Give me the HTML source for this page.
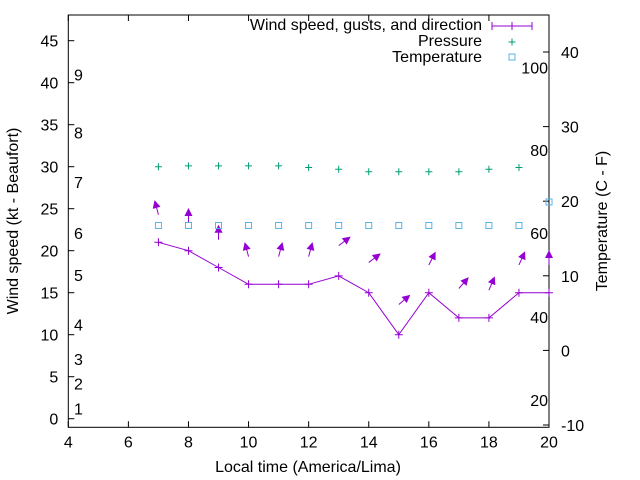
<!DOCTYPE html>
<html><head><meta charset="utf-8"><style>
body{margin:0;background:#fff}
svg{display:block;font-family:"Liberation Sans",sans-serif;font-size:16px}
</style></head><body>
<svg id="chart" width="640" height="480" viewBox="0 0 640 480">
<g id="axes"></g><g id="marks"></g>
</svg>
<script>
const hours=[7,8,9,10,11,12,13,14,15,16,17,18,19,20];
const windSpeed=[21,20,18,16,16,16,17,15,10,15,12,12,15,15];
const pressureHours=[7,8,9,10,11,12,13,14,15,16,17,18,19];
const pressure=[30,30.1,30.1,30.1,30.1,29.9,29.7,29.4,29.4,29.4,29.4,29.7,29.9];
const tempHours=[7,8,9,10,11,12,13,14,15,16,17,18,19,20];
const temperature=[23,23,23,23,23,23,23,23,23,23,23,23,23,25.8];
const arrowY=[24.3,23.3,21.3,19.3,19.3,19.3,20.6,18.6,13.6,18.3,15.5,15.3,18.3,18.3];
const arrowDir=[-15,0,0,-15,15,15,53,53,50,27,41,23,24,0];
const xTicks=[4,6,8,10,12,14,16,18,20];
const yTicks=[0,5,10,15,20,25,30,35,40,45];
const y2Ticks=[-10,0,10,20,30,40];
const beaufortLabels=["1","2","3","4","5","6","7","8","9"];
const beaufortPos=[1.2,4.2,7.1,11.2,17.1,22.1,28.2,34.1,41];
const fLabels=["20","40","60","80","100"];
const fPos=[2.2,12.1,22.1,32,41.8];

const L=68.3,R=549,T=15,B=427.3;
const X=v=>L+(v-4)*(R-L)/16;
const Y=v=>418.7-v*8.4;
const Y2=v=>425-(v+10)*7.46;
const NS="http://www.w3.org/2000/svg";
const ax=document.getElementById('axes'),mk=document.getElementById('marks');
function el(p,t,a,txt){const e=document.createElementNS(NS,t);for(const k in a)e.setAttribute(k,a[k]);if(txt!==undefined)e.textContent=txt;p.appendChild(e);return e;}

let f=el(ax,'rect',{x:L,y:T,width:R-L,height:B-T,fill:'none',stroke:'#000','stroke-width':1});


xTicks.forEach(v=>{
 let t=el(ax,'path',{d:`M${X(v)},${B}v-6M${X(v)},${T}v6`,stroke:'#000'});
 
 
 let l=el(ax,'text',{x:X(v),y:B+20,'text-anchor':'middle'},v);
 
 
});
yTicks.forEach(v=>{
 let t=el(ax,'path',{d:`M${L},${Y(v)}h6`,stroke:'#000'});
 
 
 let l=el(ax,'text',{x:L-10,y:Y(v)+6,'text-anchor':'end'},v);
 
 
});
y2Ticks.forEach(v=>{
 let t=el(ax,'path',{d:`M${R},${Y2(v)}h-6`,stroke:'#000'});
 
 
 let l=el(ax,'text',{x:R+12,y:Y2(v)+6,'text-anchor':'start'},v);
 
 
});
beaufortLabels.forEach((s,i)=>{
 let l=el(ax,'text',{x:74,y:Y(beaufortPos[i])+6},s);
 
 
});
fLabels.forEach((s,i)=>{
 let l=el(ax,'text',{x:548,y:Y(fPos[i])+6,'text-anchor':'end'},s);
 
 
});
let xt=el(ax,'text',{x:308,y:472,'text-anchor':'middle'},'Local time (America/Lima)');


let yt=el(ax,'text',{x:18,y:221,'text-anchor':'middle',transform:'rotate(-90 18 221)'},'Wind speed (kt - Beaufort)');


let y2t=el(ax,'text',{x:607,y:221,'text-anchor':'middle',transform:'rotate(-90 607 221)'},'Temperature (C - F)');



// wind line
let pts=hours.map((h,i)=>X(h)+','+Y(windSpeed[i])).join(' ');
let wl=el(mk,'polyline',{points:pts,fill:'none',stroke:'#9400d3','stroke-width':1});


hours.forEach((h,i)=>{
 let p=el(mk,'path',{d:`M${X(h)-4},${Y(windSpeed[i])}h8M${X(h)},${Y(windSpeed[i])-4}v8`,stroke:'#9400d3'});
 
 
});
// arrows
hours.forEach((h,i)=>{
 const a=arrowDir[i]*Math.PI/180,len=13;
 const x0=X(h),y0=Y(arrowY[i]);
 const dx=Math.sin(a),dy=-Math.cos(a);
 const x1=x0+dx*len,y1=y0+dy*len;
 const px=-dy,py=dx;
 let g=el(mk,'g',{});
 
 
 el(g,'line',{x1:x0,y1:y0,x2:x1,y2:y1,stroke:'#9400d3'});
 el(g,'polygon',{points:`${x1+dx*2},${y1+dy*2} ${x1-dx*6+px*4},${y1-dy*6+py*4} ${x1-dx*6-px*4},${y1-dy*6-py*4}`,fill:'#9400d3'});
});
// pressure
pressureHours.forEach((h,i)=>{
 let p=el(mk,'path',{d:`M${X(h)-3.5},${Y(pressure[i])}h7M${X(h)},${Y(pressure[i])-3.5}v7`,stroke:'#009e73'});
 
 
});
// temperature
tempHours.forEach((h,i)=>{
 let p=el(mk,'rect',{x:X(h)-3,y:Y(temperature[i])-3,width:6,height:6,fill:'none',stroke:'#56b4e9'});
 
 
});
// legend
const lg=el(mk,'g',{});


let e1=el(lg,'text',{x:482,y:30,'text-anchor':'end'},'Wind speed, gusts, and direction');


el(lg,'path',{d:'M492,26h40M492,22v8M532,22v8M512,22v8',stroke:'#9400d3'});
let e2=el(lg,'text',{x:482,y:46,'text-anchor':'end'},'Pressure');


el(lg,'path',{d:'M508.5,42h7M512,38.5v7',stroke:'#009e73'});
let e3=el(lg,'text',{x:482,y:62,'text-anchor':'end'},'Temperature');


el(lg,'rect',{x:509,y:54,width:6,height:6,fill:'none',stroke:'#56b4e9'});
</script>
</body></html>
